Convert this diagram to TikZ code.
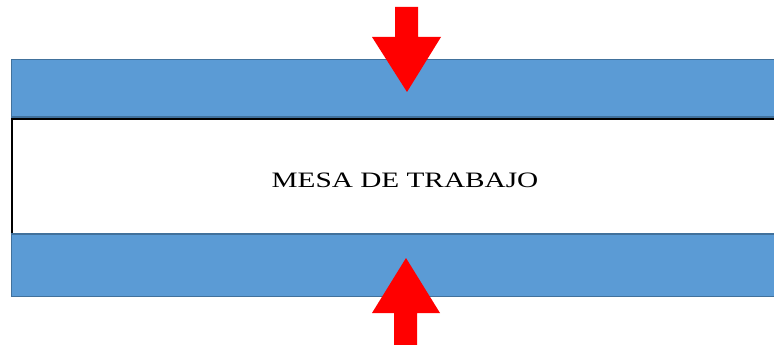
\documentclass[tikz,border=0pt]{standalone}
\usepackage{fontspec}
\setmainfont{Liberation Serif}
\definecolor{barblue}{RGB}{91,155,213}
\definecolor{barline}{RGB}{65,113,156}

\begin{document}
\begin{tikzpicture}[x = 1pt, y = -1pt,
	bar/.style = {fill = barblue, draw = barline, line width = 1.2pt},
	push/.style = {fill = red, draw = none}]
	\useasboundingbox (0,0) rectangle (774,345);

	% work table
	\draw [line width = 1.8pt] (12,234) -- (12,119) -- (775,119);
	\node (mesa) [xscale = 1.33, font = \fontsize{22}{25}\selectfont] at (405,180) {MESA DE TRABAJO};

	% clamping plates
	\draw [bar] (11.5,59.5) rectangle (780,117);
	\draw [bar] (11.5,234) rectangle (780,296.5);

	% forces
	\begin{scope}[push]
		\fill (395,7) -- (418,7) -- (418,37) -- (441,37) -- (407,92) -- (372,37) -- (395,37) -- cycle;
		\fill (394,345) -- (417,345) -- (417,313) -- (440,313) -- (406,258) -- (372,313) -- (394,313) -- cycle;
	\end{scope}
\end{tikzpicture}
\end{document}
